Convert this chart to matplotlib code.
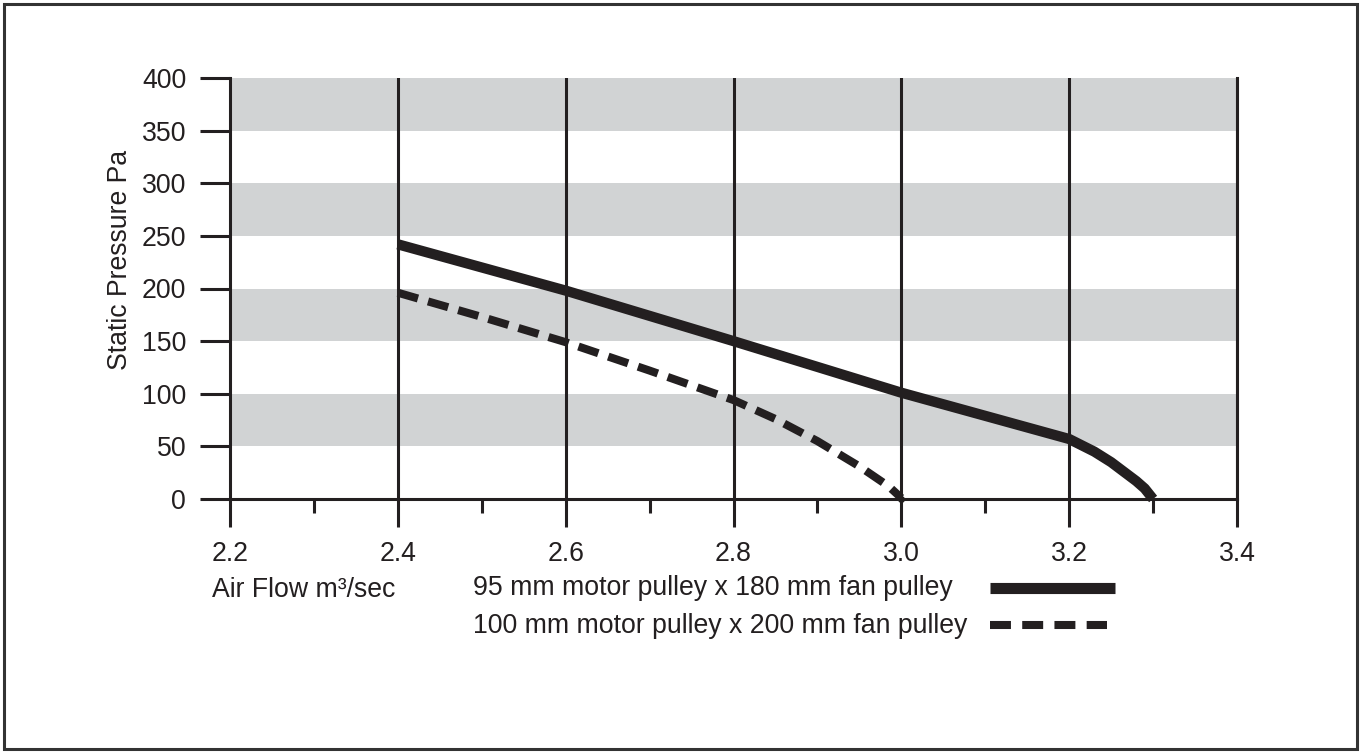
import matplotlib
matplotlib.use("Agg")
import matplotlib.pyplot as plt
from matplotlib.lines import Line2D
from matplotlib.patches import Rectangle

plt.rcParams['font.family'] = ['Liberation Sans', 'DejaVu Sans']

# ---- data ----
x_solid = [2.4, 2.6, 2.8, 3.0, 3.2, 3.215, 3.23, 3.24, 3.25, 3.26, 3.27, 3.28, 3.29, 3.3]
y_solid = [242, 198, 150, 101, 57, 51, 45, 40, 35, 29, 23, 17, 10, 0]
x_dash = [2.4, 2.5, 2.6, 2.7, 2.8, 2.85, 2.9, 2.95, 2.985, 3.0]
y_dash = [196, 173, 149, 122, 94, 76, 55, 31, 12, 1]
series_labels = ["95 mm motor pulley x 180 mm fan pulley",
                 "100 mm motor pulley x 200 mm fan pulley"]
x_ticks = [2.2, 2.4, 2.6, 2.8, 3.0, 3.2, 3.4]
x_minor = [2.3, 2.5, 2.7, 2.9, 3.1, 3.3]
y_ticks = [0, 50, 100, 150, 200, 250, 300, 350, 400]
band_ranges = [(50, 100), (150, 200), (250, 300), (350, 400)]
x_label = "Air Flow m³/sec"
y_label = "Static Pressure Pa"

W, H = 1361, 752
DARK = '#231f20'
GREY = '#d1d3d4'
FS = 19.2

fig = plt.figure(figsize=(W/100, H/100), dpi=100)
ax = fig.add_axes([230/W, 1-499/H, 1007/W, 421/H])

for lo, hi in band_ranges:
    ax.axhspan(lo, hi, color=GREY, lw=0, zorder=0)

ax.set_xlim(2.2, 3.4)
ax.set_ylim(0, 400)
ax.set_xticks(x_ticks)
ax.set_xticklabels([f"{v:.1f}" for v in x_ticks])
ax.set_xticks(x_minor, minor=True)
ax.set_yticks(y_ticks)

for xv in x_ticks[1:]:
    ax.axvline(xv, color=DARK, lw=2.2, zorder=1)

ax.spines['top'].set_visible(False)
for s in ['left', 'bottom', 'right']:
    ax.spines[s].set_color(DARK)
    ax.spines[s].set_linewidth(2.2)
    ax.spines[s].set_zorder(1)

ax.tick_params(axis='y', direction='out', length=21.5, width=2.2, color=DARK,
               labelsize=FS, pad=10, labelcolor=DARK)
ax.tick_params(axis='x', which='major', direction='out', length=20, width=2.2,
               color=DARK, labelsize=FS, pad=10.5, labelcolor=DARK)
ax.tick_params(axis='x', which='minor', direction='out', length=10, width=2.2,
               color=DARK)

ax.plot(x_solid, y_solid, color=DARK, lw=7.4, solid_capstyle='butt',
        solid_joinstyle='round', zorder=3, clip_on=False)
ax.plot(x_dash, y_dash, color=DARK, lw=5.8, dashes=(2.6, 1.3),
        dash_capstyle='butt', dash_joinstyle='round', zorder=3, clip_on=False)
ax.plot([x_dash[-1]], [0], marker='o', ms=4, color=DARK, zorder=4, clip_on=False)

# labels
fig.text(120/W, 1-260/H, y_label, rotation=90, ha='center', va='center',
         fontsize=FS, color=DARK)
fig.text(212/W, 1-590/H, x_label, ha='left', va='center', fontsize=FS, color=DARK)

# legend (manual)
fig.text(473/W, 1-588/H, series_labels[0], ha='left', va='center', fontsize=FS, color=DARK)
fig.text(473/W, 1-626/H, series_labels[1], ha='left', va='center', fontsize=FS, color=DARK)
fig.add_artist(Line2D([990/W, 1115/W], [1-587.5/H, 1-587.5/H], transform=fig.transFigure,
                      color=DARK, lw=8, solid_capstyle='butt'))
fig.add_artist(Line2D([990/W, 1107/W], [1-625/H, 1-625/H], transform=fig.transFigure,
                      color=DARK, lw=5.8, dashes=(2.6, 1.4), dash_capstyle='butt'))

# border
fig.add_artist(Rectangle((4/W, 3/H), 1353/W, 745/H, transform=fig.transFigure,
                         fill=False, edgecolor='#333333', lw=2.2))

fig.savefig('out.png', dpi=100)
